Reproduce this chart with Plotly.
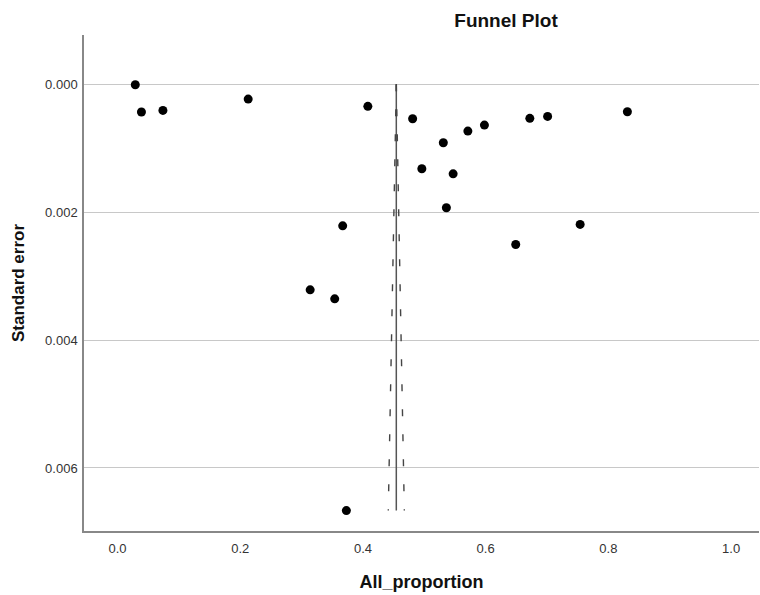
import plotly.graph_objects as go

# Study proportions and standard errors
proportion = [0.029, 0.039, 0.074, 0.213, 0.408, 0.367, 0.314, 0.354, 0.373,
              0.481, 0.496, 0.531, 0.547, 0.536, 0.571, 0.598, 0.672, 0.701,
              0.831, 0.649, 0.754]
std_error = [0.000006, 0.000433, 0.000407, 0.000230, 0.000344, 0.002213, 0.003214,
             0.003355, 0.006667, 0.000538, 0.001320, 0.000914, 0.001400, 0.001930,
             0.000731, 0.000637, 0.000532, 0.000501, 0.000428, 0.002504, 0.002191]

pooled_mean = 0.4544
se_max = max(std_error)
z = 1.96

x_ticks = [0.0, 0.2, 0.4, 0.6, 0.8, 1.0]
y_ticks = [0.000, 0.002, 0.004, 0.006]

fig = go.Figure()

# funnel: centre line and 95% limits
fig.add_trace(go.Scatter(x=[pooled_mean, pooled_mean], y=[0, se_max], mode="lines",
                         line=dict(color="#555555", width=1.5), showlegend=False, hoverinfo="skip"))
fig.add_trace(go.Scatter(x=[pooled_mean, pooled_mean - z * se_max], y=[0, se_max], mode="lines",
                         line=dict(color="#444444", width=1.4, dash="7px,18px"), showlegend=False, hoverinfo="skip"))
fig.add_trace(go.Scatter(x=[pooled_mean, pooled_mean + z * se_max], y=[0, se_max], mode="lines",
                         line=dict(color="#444444", width=1.4, dash="7px,18px"), showlegend=False, hoverinfo="skip"))

fig.add_trace(go.Scatter(x=proportion, y=std_error, mode="markers",
                         marker=dict(color="black", size=9), showlegend=False))

fig.update_layout(
    width=760, height=595,
    margin=dict(l=84, r=1, t=35, b=64),
    paper_bgcolor="white", plot_bgcolor="white",
    font=dict(family="Liberation Sans, Arial, sans-serif", color="#222222"),
    title=dict(text="<b>Funnel Plot</b>", x=506 / 760, xref="container", xanchor="center",
               y=1 - 20 / 595, yref="container", yanchor="middle",
               font=dict(size=19, color="#111111")),
)
fig.update_xaxes(range=[-0.0546, 1.0455], tickvals=x_ticks, tickformat=".1f",
                 showgrid=False, zeroline=False, showline=True, linecolor="#888888", linewidth=1.5,
                 ticks="", ticklabelstandoff=5, automargin=False,
                 tickfont=dict(size=13, color="#333333"),
                 title=dict(text="<b>All_proportion</b>", font=dict(size=18, color="#111111"), standoff=20))
fig.update_yaxes(range=[0.006986, -0.000772], tickvals=y_ticks, tickformat=".3f",
                 showgrid=True, gridcolor="#c8c8c8", gridwidth=1, zeroline=False,
                 showline=True, linecolor="#888888", linewidth=1.5, ticks="",
                 ticklabelstandoff=2, automargin=False,
                 tickfont=dict(size=13, color="#333333"),
                 title=dict(text="<b>Standard error</b>", font=dict(size=17, color="#111111"), standoff=16))

fig.write_html("out.html", config={"displayModeBar": False},
               post_script="document.body.style.margin='0';")
